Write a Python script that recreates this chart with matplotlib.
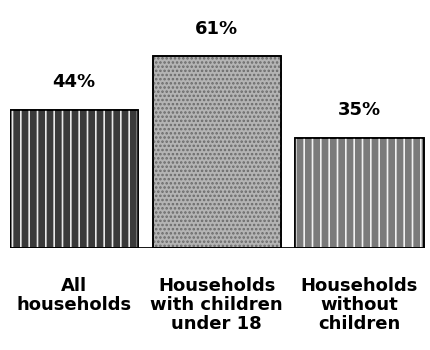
import matplotlib
matplotlib.use("Agg")
import matplotlib.pyplot as plt

categories = ["All\nhouseholds", "Households\nwith children\nunder 18", "Households\nwithout\nchildren"]
values = [44, 61, 35]
labels = ["44%", "61%", "35%"]

face = ["#3a3a3a", "#b4b4b4", "#7a7a7a"]
hatches = ["||", "....", "||"]
hcol = ["#e8e8e8", "#6a6a6a", "#f0f0f0"]

plt.rcParams['font.family'] = ['Liberation Sans Narrow', 'DejaVu Sans']
plt.rcParams['hatch.linewidth'] = 1.2

fig = plt.figure(figsize=(4.3, 3.5), dpi=100)
ax = fig.add_axes([10/430, 102/350, 415/430, 238/350])

x = list(range(len(values)))
ax.bar(x, values, width=0.9, color=face, edgecolor="black", linewidth=1.2, zorder=2)
for i in x:
    ax.bar(i, values[i], width=0.9, color="none", edgecolor=hcol[i],
           hatch=hatches[i], linewidth=0, zorder=3)
ax.bar(x, values, width=0.9, color="none", edgecolor="black", linewidth=1.2, zorder=4)

for i in x:
    ax.annotate(labels[i], (i, values[i]), xytext=(0, 20), textcoords="offset points",
                ha="center", va="center", fontsize=13, fontweight="bold")
    ax.text(i, -0.12, categories[i], transform=ax.get_xaxis_transform(),
            ha="center", va="top", fontsize=13, fontweight="bold", linespacing=1.1)

ax.axhline(0, color="black", linewidth=2, zorder=5)
ax.set_xlim(-0.45, 2.46)
ax.set_ylim(0, 238/3.14)
ax.axis("off")

fig.savefig("out.png", dpi=100)
